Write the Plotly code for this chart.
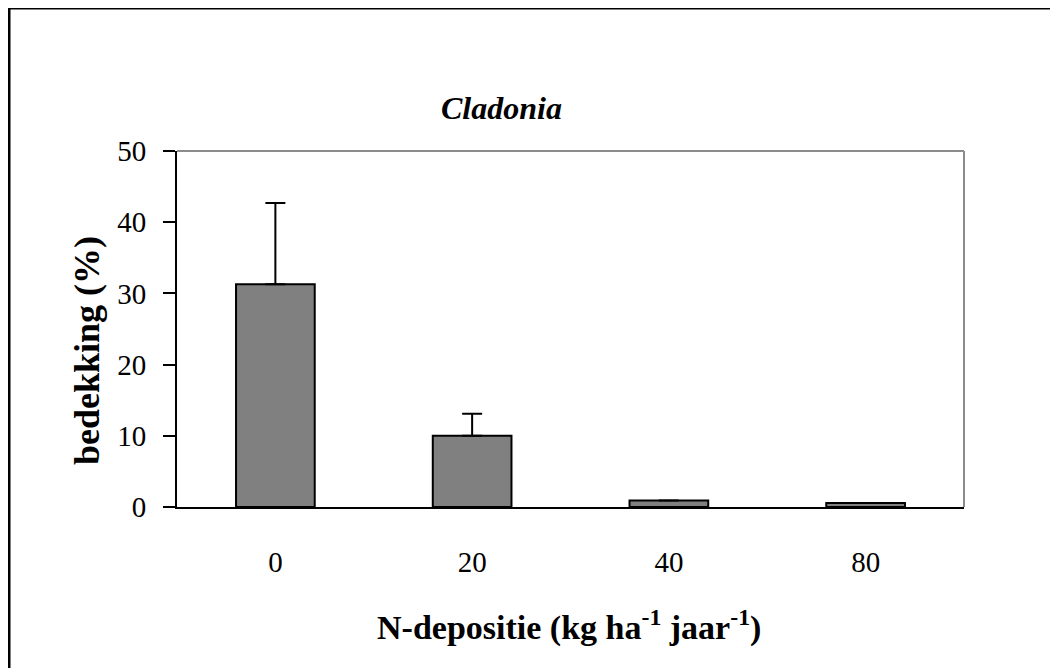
import plotly.graph_objects as go

categories = ["0", "20", "40", "80"]
cover = [31.3, 10.0, 0.9, 0.55]
err_plus = [11.4, 3.1, None, None]
y_ticks = [0, 10, 20, 30, 40, 50]

W, H = 1058, 668
O = 8  # page body offset
# target plot area in window pixels: x 177..964, y 151..507
L = 177 - O
T = 151 - O
R = O + W - 964
B = O + H - 507
pw, ph = W - L - R, H - T - B

def px_x(x):
    return (x - O - L) / pw

def px_y(y):
    return (O + H - B - y) / ph

serif = "Liberation Serif, Times New Roman, serif"

fig = go.Figure()
fig.add_trace(go.Bar(
    x=categories, y=cover, width=0.40,
    marker=dict(color="#808080", line=dict(color="#000000", width=2)),
    error_y=dict(type="data", symmetric=False, array=err_plus,
                 arrayminus=[0, 0, 0, 0], color="#000000", thickness=2, width=10),
))

fig.update_layout(
    width=W, height=H,
    margin=dict(l=L, r=R, t=T, b=B, autoexpand=False),
    paper_bgcolor="white", plot_bgcolor="white",
    showlegend=False,
    font=dict(family=serif, color="#000000", size=29),
    xaxis=dict(showline=True, linecolor="#000000", linewidth=2, ticks="",
               showgrid=False, ticklabelstandoff=28,
               tickfont=dict(family=serif, size=29, color="#000000")),
    yaxis=dict(range=[0, 50], tickvals=y_ticks, showline=True, linecolor="#000000",
               linewidth=2, ticks="outside", ticklen=12, tickwidth=2, tickcolor="#000000",
               showgrid=False, zeroline=False, ticklabelstandoff=11,
               tickfont=dict(family=serif, size=29, color="#000000")),
    annotations=[
        dict(text="<b><i>Cladonia</i></b>", xref="paper", yref="paper",
             x=px_x(501), y=px_y(108), showarrow=False, xanchor="center", yanchor="middle",
             font=dict(family=serif, size=32, color="#000000")),
        dict(text="<b>bedekking (%)</b>", xref="paper", yref="paper", textangle=-90,
             x=px_x(87), y=px_y(351), showarrow=False, xanchor="center", yanchor="middle",
             font=dict(family=serif, size=36, color="#000000")),
        dict(text="<b>N-depositie (kg ha<sup>-1</sup> jaar<sup>-1</sup>)</b>", xref="paper", yref="paper",
             x=px_x(569), y=px_y(625), showarrow=False, xanchor="center", yanchor="middle",
             font=dict(family=serif, size=34, color="#000000")),
    ],
    shapes=[
        dict(type="line", xref="paper", yref="paper", x0=0, x1=1, y0=1, y1=1,
             line=dict(color="#8c8c8c", width=2)),
        dict(type="line", xref="paper", yref="paper", x0=1, x1=1, y0=0, y1=1,
             line=dict(color="#8c8c8c", width=2)),
        dict(type="line", xref="paper", yref="paper", x0=px_x(4), x1=px_x(1058), y0=px_y(8), y1=px_y(8),
             line=dict(color="#000000", width=3)),
        dict(type="line", xref="paper", yref="paper", x0=px_x(9), x1=px_x(9), y0=px_y(7), y1=px_y(668),
             line=dict(color="#000000", width=3)),
    ],
)

fig.write_html("out.html")
